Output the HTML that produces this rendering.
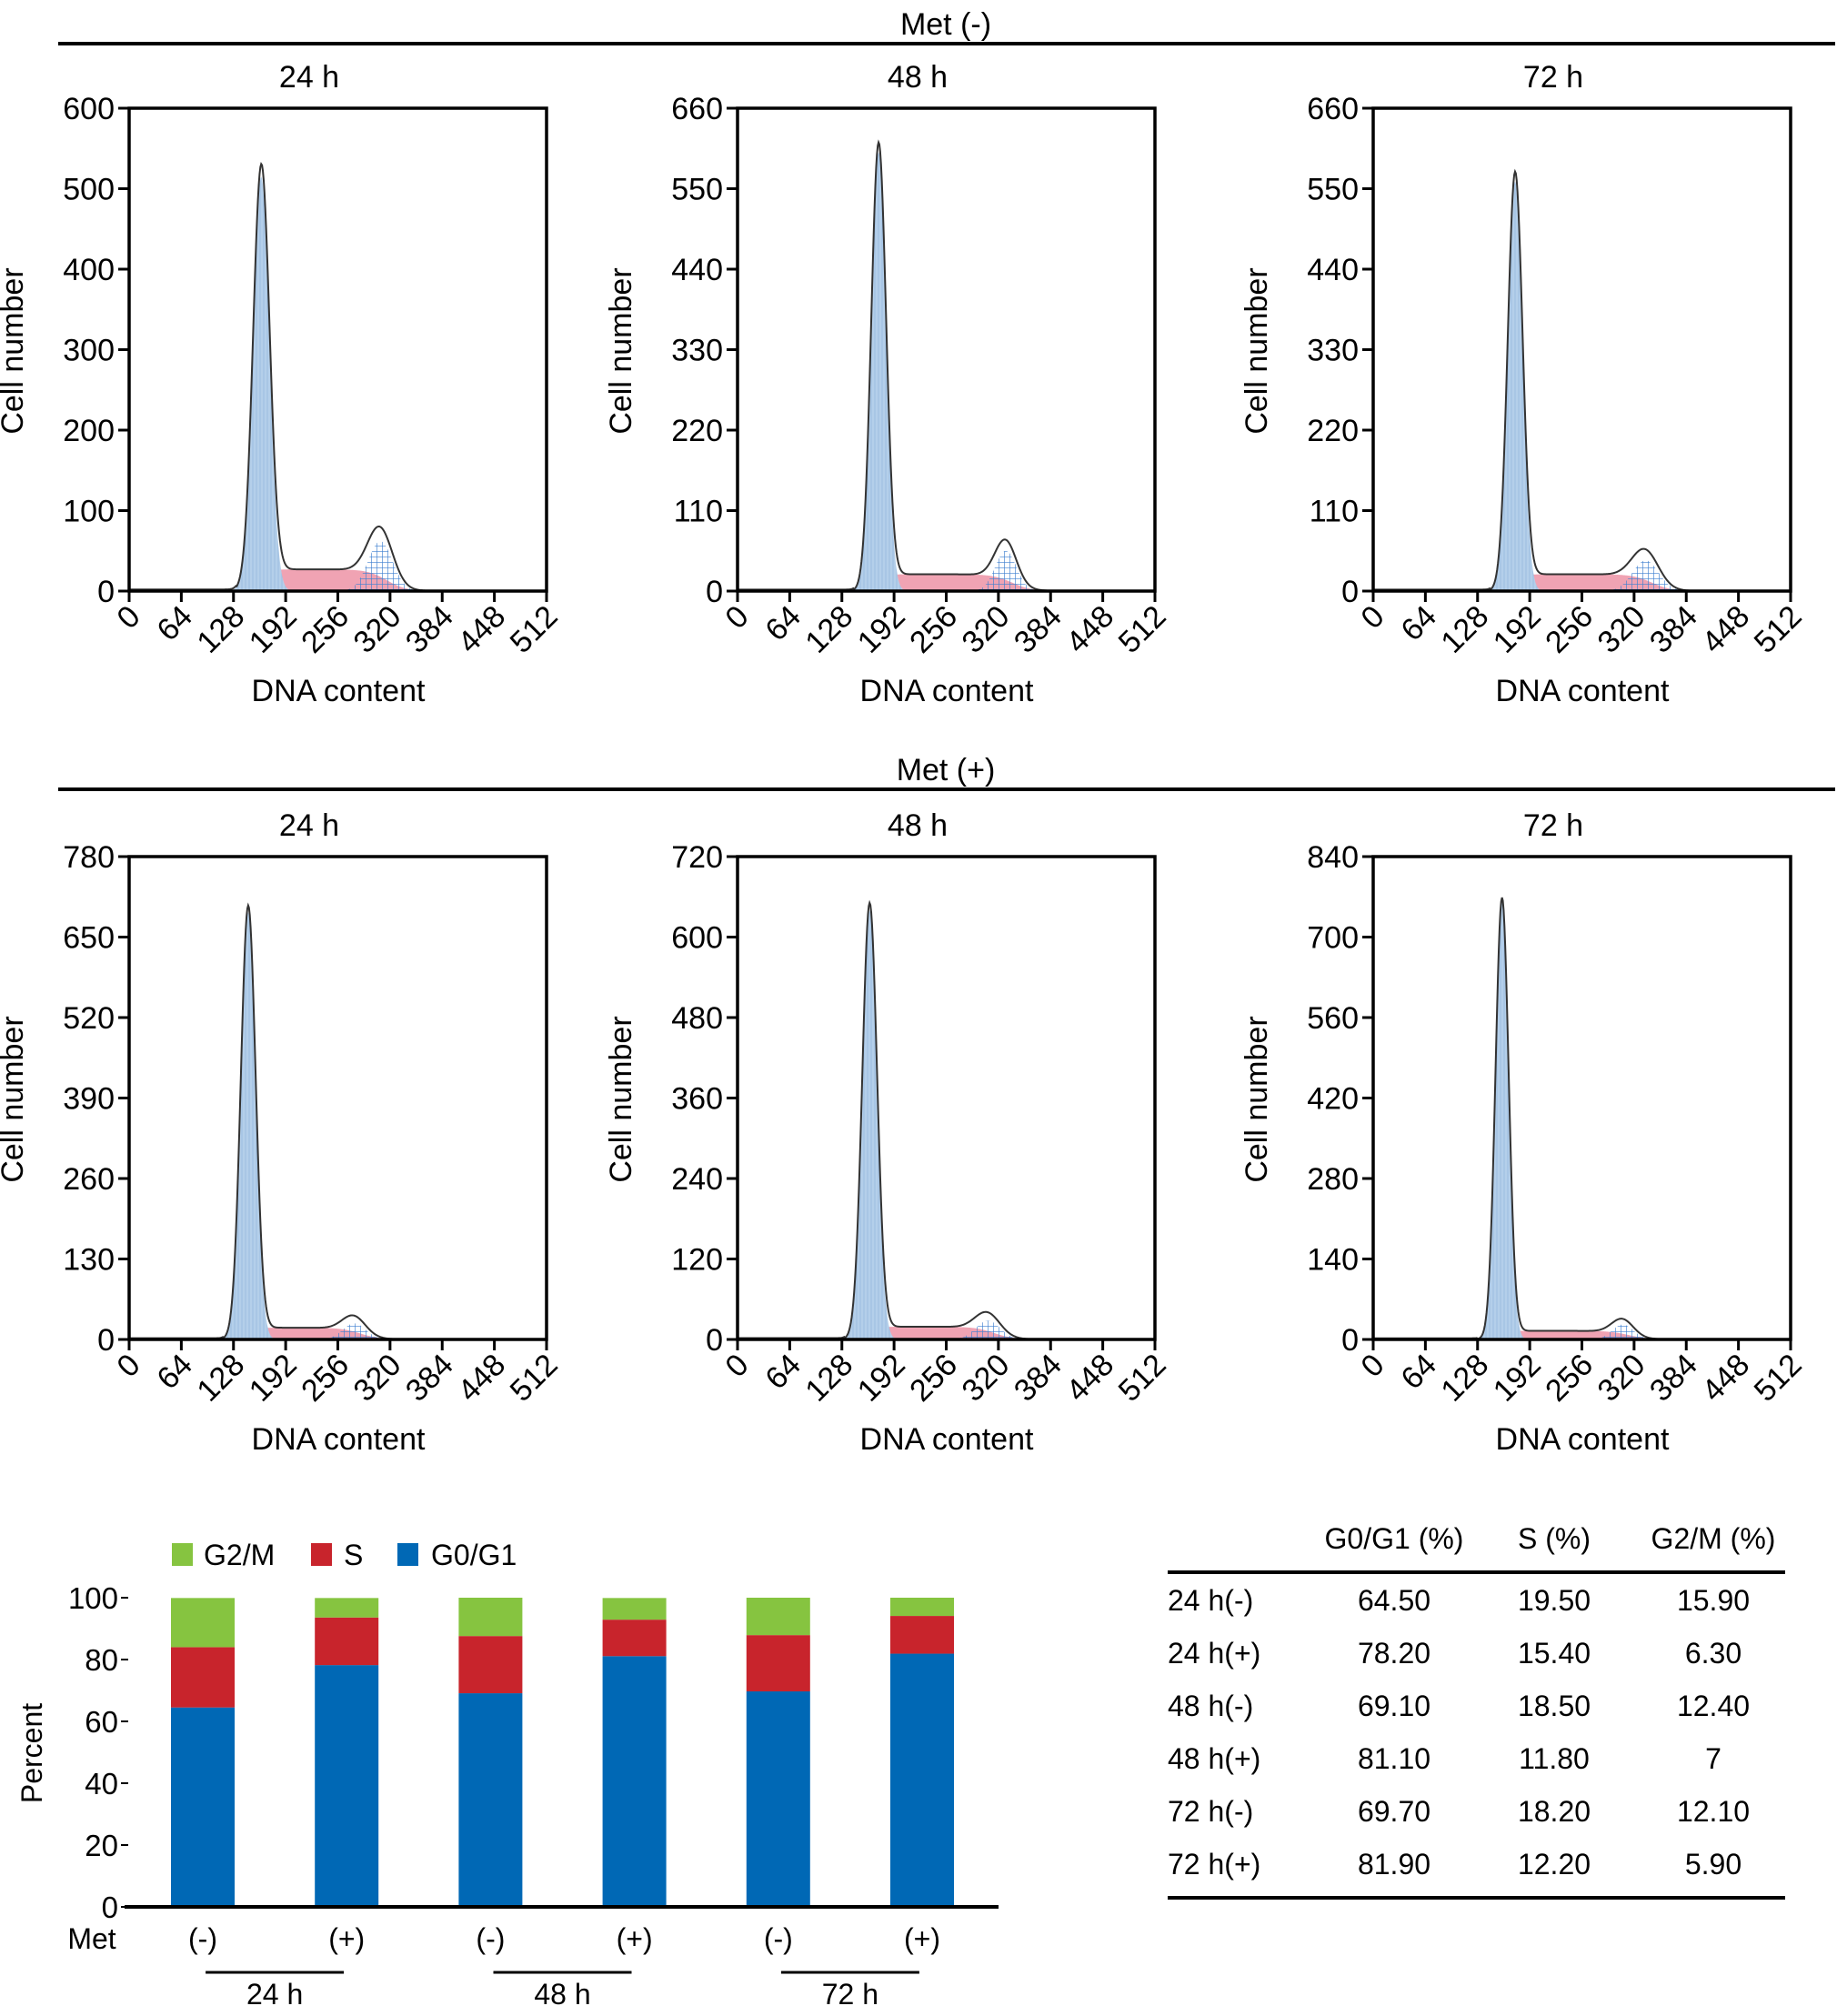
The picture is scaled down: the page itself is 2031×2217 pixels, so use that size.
<!DOCTYPE html>
<html><head><meta charset="utf-8">
<style>
html,body{margin:0;padding:0;background:#fff;}
svg{display:block;font-family:"Liberation Sans",Arial,sans-serif;}
</style></head>
<body>
<svg id="fig" width="2031" height="2217" viewBox="0 0 2031 2217" xmlns="http://www.w3.org/2000/svg">
<defs>
<pattern id="g2hatch" width="6" height="6" patternUnits="userSpaceOnUse">
<path d="M0 0H6M0 0V6" stroke="#3d7fd0" stroke-width="1.3"/>
</pattern>
<pattern id="g1hatch" width="4" height="4" patternUnits="userSpaceOnUse">
<rect width="4" height="4" fill="#b4cfea"/>
<path d="M2 0V4" stroke="#9dbde0" stroke-width="1"/>
</pattern>
</defs>
<g id="top-headers"></g>
<g id="panels"></g>
<g id="bar-chart"></g>
<g id="table"></g>
</svg>
<script>
// ---------- Histogram panel data ----------
var panelTitles = ["24 h","48 h","72 h","24 h","48 h","72 h"];
var yMaxes = [600,660,660,780,720,840];
var yStepCounts = [6,6,6,6,6,6];
var g1Means = [162,173,174,146,162,158];
var g1Heights = [515,600,560,690,640,760];
var g1Sds = [10,9,9,9,9,8];
var sLevels = [27,23,23,19,19,15];
var g2Means = [308,329,334,276,307,306];
var g2Heights = [62,55,42,26,28,26];
var g2Sds = [15,13,16,14,15,13];
var xTicks = [0,64,128,192,256,320,384,448,512];

// ---------- Bar chart data ----------
var barCats = ["(-)","(+)","(-)","(+)","(-)","(+)"];
var barGroups = ["24 h","48 h","72 h"];
var g0g1 = [64.5,78.2,69.1,81.1,69.7,81.9];
var sPhase = [19.5,15.4,18.5,11.8,18.2,12.2];
var g2m = [15.9,6.3,12.4,7,12.1,5.9];
var barYTicks = [0,20,40,60,80,100];

// ---------- Table data ----------
var tableRows = ["24 h(-)","24 h(+)","48 h(-)","48 h(+)","72 h(-)","72 h(+)"];
var tableG1 = ["64.50","78.20","69.10","81.10","69.70","81.90"];
var tableS = ["19.50","15.40","18.50","11.80","18.20","12.20"];
var tableG2 = ["15.90","6.30","12.40","7","12.10","5.90"];

var NS = "http://www.w3.org/2000/svg";
function mk(tag, attrs, parent, text){
  var e = document.createElementNS(NS, tag);
  for (var k in attrs) e.setAttribute(k, attrs[k]);
  if (text !== undefined) e.textContent = text;
  parent.appendChild(e);
  return e;
}

var hdr = document.getElementById('top-headers');
[["Met (-)",26,48],["Met (+)",846,868]].forEach(function(h, i){
  var t = mk('text',{x:1040,y:h[1]+12,'font-size':34,'text-anchor':'middle',fill:'#000'},hdr,h[0]);
  
  
  var l = mk('line',{x1:64,x2:2018,y1:h[2],y2:h[2],stroke:'#000','stroke-width':4},hdr);
  
  
});

var panelsG = document.getElementById('panels');
var lefts = [142,811,1510];
var tops = [119,942];
var PW = 459, PH = 531;

function gauss(x,m,s){ return Math.exp(-0.5*Math.pow((x-m)/s,2)); }
function sig(z){ return 1/(1+Math.exp(-z)); }

for (var p=0;p<6;p++){
  var L = lefts[p%3], T = tops[Math.floor(p/3)], B = T+PH;
  var g = mk('g',{},panelsG);
  
  
  var ymax = yMaxes[p];
  var xs = function(v){ return L + v/512*PW; };
  var ys = (function(ym){ return function(v){ return B - v/ym*PH; }; })(ymax);

  var comp = {g1:[],s:[],g2:[],tot:[]};
  for (var x=0;x<=420;x+=1){
    var a = g1Heights[p]*gauss(x,g1Means[p],g1Sds[p]);
    var s = sLevels[p]*sig((x-g1Means[p]+2)/6)*sig((g2Means[p]+8-x)/12);
    var c = g2Heights[p]*gauss(x,g2Means[p],g2Sds[p]);
    var base = x<g1Means[p]-30 ? 2 : 0;
    comp.g1.push([x,a]); comp.s.push([x,s]); comp.g2.push([x,c]); comp.tot.push([x,a+s+c+base]);
  }
  function area(arr){
    var d = "M"+xs(arr[0][0])+","+ys(0);
    arr.forEach(function(q){ d += "L"+xs(q[0]).toFixed(2)+","+ys(q[1]).toFixed(2); });
    d += "L"+xs(arr[arr.length-1][0])+","+ys(0)+"Z";
    return d;
  }
  var sa = mk('path',{d:area(comp.s),fill:'#f0a3b3'},g);
  
  
  var g2a = mk('path',{d:area(comp.g2),fill:'url(#g2hatch)'},g);
  
  
  var g1a = mk('path',{d:area(comp.g1),fill:'url(#g1hatch)'},g);
  
  
  var dl = "";
  comp.tot.forEach(function(q,i){ dl += (i?"L":"M")+xs(q[0]).toFixed(2)+","+ys(q[1]).toFixed(2); });
  var fit = mk('path',{d:dl,fill:'none',stroke:'#333','stroke-width':2},g);
  
  

  var fr = mk('rect',{x:L,y:T,width:PW,height:PH,fill:'none',stroke:'#000','stroke-width':3.5},g);
  
  
  var step = ymax/yStepCounts[p];
  for (var k=0;k<=yStepCounts[p];k++){
    var v = step*k, yy = ys(v);
    mk('line',{x1:L-12,x2:L,y1:yy,y2:yy,stroke:'#000','stroke-width':3},g);
    var yt = mk('text',{x:L-16,y:yy+12,'font-size':34,'text-anchor':'end',fill:'#000'},g,String(Math.round(v)));
    
    
  }
  xTicks.forEach(function(v){
    var xx = xs(v);
    mk('line',{x1:xx,x2:xx,y1:B,y2:B+12,stroke:'#000','stroke-width':3},g);
    var xt = mk('text',{x:xx+14,y:B+30,'font-size':34,'text-anchor':'end',fill:'#000',transform:'rotate(-45 '+(xx+14)+' '+(B+30)+')'},g,String(v));
    
    
  });
  var tt = mk('text',{x:L+198,y:T-23,'font-size':34,'text-anchor':'middle',fill:'#000'},g,panelTitles[p]);
  
  
  var xl = mk('text',{x:L+230,y:B+121,'font-size':34,'text-anchor':'middle',fill:'#000'},g,'DNA content');
  
  
  var cx = L-117, cy = T+267;
  var yl = mk('text',{x:cx,y:cy,'font-size':34,'text-anchor':'middle',fill:'#000',transform:'rotate(-90 '+cx+' '+cy+')'},g,'Cell number');
  
  
}

// ---------- bar chart ----------
var bc = document.getElementById('bar-chart');
var bY0 = 2097, bY100 = 1757;
function by(v){ return bY0 - v/100*(bY0-bY100); }
var barCenters0 = 223, barStep = 158.2, barW = 70;
function bx(i){ return barCenters0 + i*barStep; }
barYTicks.forEach(function(v){
  var yy = by(v);
  mk('line',{x1:133,x2:141,y1:yy,y2:yy,stroke:'#000','stroke-width':2},bc);
  var t = mk('text',{x:130,y:yy+12,'font-size':33,'text-anchor':'end',fill:'#000'},bc,String(v));
  
  
});
for (var i=0;i<barCats.length;i++){
  var x0 = bx(i)-barW/2;
  var r1 = mk('rect',{x:x0,y:by(g0g1[i]),width:barW,height:by(0)-by(g0g1[i]),fill:'#0068b5'},bc);
  
  
  var r2 = mk('rect',{x:x0,y:by(g0g1[i]+sPhase[i]),width:barW,height:by(g0g1[i])-by(g0g1[i]+sPhase[i]),fill:'#c8242c'},bc);
  
  
  var tot = g0g1[i]+sPhase[i]+g2m[i];
  var r3 = mk('rect',{x:x0,y:by(tot),width:barW,height:by(g0g1[i]+sPhase[i])-by(tot),fill:'#86c440'},bc);
  
  
  var ct = mk('text',{x:bx(i),y:2143,'font-size':32,'text-anchor':'middle',fill:'#000'},bc,barCats[i]);
  
  
}
var ax = mk('line',{x1:137,x2:1098,y1:bY0,y2:bY0,stroke:'#000','stroke-width':4},bc);


var met = mk('text',{x:101,y:2143,'font-size':32,'text-anchor':'middle',fill:'#000'},bc,'Met');


barGroups.forEach(function(gn,j){
  var c = (bx(2*j)+bx(2*j+1))/2;
  var gl = mk('line',{x1:c-76,x2:c+76,y1:2169,y2:2169,stroke:'#000','stroke-width':3},bc);
  
  
  var gt = mk('text',{x:c,y:2204,'font-size':32,'text-anchor':'middle',fill:'#000'},bc,gn);
  
  
});
var pc = mk('text',{x:46,y:1928,'font-size':32,'text-anchor':'middle',fill:'#000',transform:'rotate(-90 46 1928)'},bc,'Percent');


[["G2/M",189,224,'#86c440'],["S",342,378,'#c8242c'],["G0/G1",437,474,'#0068b5']].forEach(function(lg){
  var r = mk('rect',{x:lg[1],y:1697,width:23,height:25,fill:lg[3]},bc);
  
  
  var t = mk('text',{x:lg[2],y:1721,'font-size':32,fill:'#000'},bc,lg[0]);
  
  
});

// ---------- table ----------
var tb = document.getElementById('table');
var colX = [1533,1709,1884];
["G0/G1 (%)","S (%)","G2/M (%)"].forEach(function(h,j){
  var t = mk('text',{x:colX[j],y:1703,'font-size':32,'text-anchor':'middle',fill:'#000'},tb,h);
  
  
});
var tl1 = mk('line',{x1:1284,x2:1963,y1:1729,y2:1729,stroke:'#000','stroke-width':4},tb);


var tl2 = mk('line',{x1:1284,x2:1963,y1:2087,y2:2087,stroke:'#000','stroke-width':4},tb);


var rowY = [1760,1818,1876,1934,1992,2050];
tableRows.forEach(function(r,i){
  var y = rowY[i]+11;
  var a = mk('text',{x:1284,y:y,'font-size':32,fill:'#000'},tb,r);
  
  
  [tableG1[i],tableS[i],tableG2[i]].forEach(function(v,j){
    var c = mk('text',{x:colX[j],y:y,'font-size':32,'text-anchor':'middle',fill:'#000'},tb,v);
    
    
  });
});
</script>
</body></html>
